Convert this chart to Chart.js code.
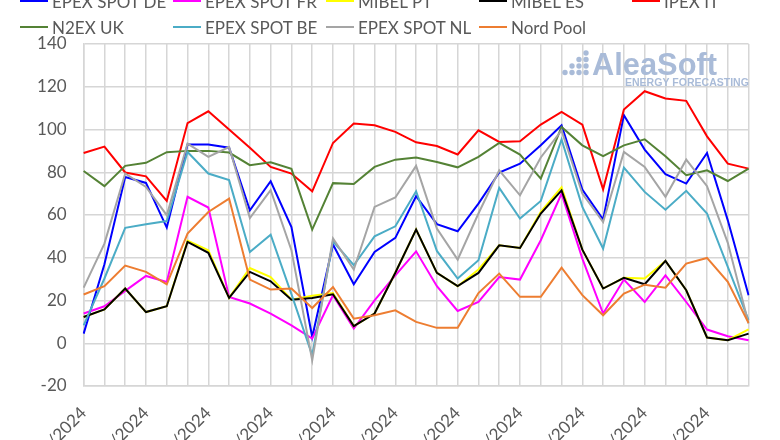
<!DOCTYPE html>
<html lang="es">
<head>
    <meta charset="UTF-8">
    <title>Precios mercados eléctricos europeos</title>
    <script src="https://cdn.jsdelivr.net/npm/chart.js"></script>
    <style>
        body {
            margin: 0;
            width: 780px;
            height: 440px;
            overflow: hidden;
            background: #ffffff;
            font-family: Lato, "Noto Sans", sans-serif;
            position: relative;
        }
        #chart { position: absolute; left: 0; top: 0; }
        .leg {
            position: absolute;
            display: flex;
            align-items: center;
            height: 20px;
            font-size: 17px;
            color: #595959;
            white-space: nowrap;
        }
        .leg span.ln {
            display: inline-block;
            width: 28px;
            height: 2px;
            margin-right: 4px;
        }
    </style>
</head>
<body>
    <canvas id="chart" width="780" height="470"></canvas>
    <div id="legend"></div>

    <script>
        // días: 01/05/2024 .. 02/06/2024
        const labels = [
            '01/05/2024', '02/05/2024', '03/05/2024', '04/05/2024', '05/05/2024', '06/05/2024', '07/05/2024',
            '08/05/2024', '09/05/2024', '10/05/2024', '11/05/2024', '12/05/2024', '13/05/2024', '14/05/2024',
            '15/05/2024', '16/05/2024', '17/05/2024', '18/05/2024', '19/05/2024', '20/05/2024', '21/05/2024',
            '22/05/2024', '23/05/2024', '24/05/2024', '25/05/2024', '26/05/2024', '27/05/2024', '28/05/2024',
            '29/05/2024', '30/05/2024', '31/05/2024', '01/06/2024', '02/06/2024'
        ];

        const seriesNames = ['EPEX SPOT DE', 'EPEX SPOT FR', 'MIBEL PT', 'MIBEL ES', 'IPEX IT',
                             'N2EX UK', 'EPEX SPOT BE', 'EPEX SPOT NL', 'Nord Pool'];
        const seriesColors = ['#0000ff', '#ff00ff', '#ffff00', '#000000', '#ff0000',
                              '#548235', '#4bacc6', '#a5a5a5', '#ed7d31'];

        const epexDE = [4.5, 37, 77.8, 75, 54.1, 93, 93, 91.5, 62.2, 75.8, 54.4, 2.9, 46.2, 27.6, 42.7, 49.3, 68.8,
                        55.7, 52.4, 65.3, 79.9, 84, 92.6, 102, 71.9, 57.9, 106.7, 90.6, 79.1, 74.7, 89, 57.5, 22.5];
        const epexFR = [13.9, 17.3, 24.5, 31.5, 28.7, 68.5, 63.5, 21.7, 18.6, 13.9, 8.4, 2.2, 22.5, 6.9, 20.1, 31.8, 43,
                        26.7, 15.1, 19.3, 31, 29.8, 48.2, 70, 39.6, 13.9, 29.8, 19.3, 31.8, 19.3, 6.4, 3.3, 1.4];
        const mibelPT = [12.3, 15.8, 25.6, 14.6, 17.3, 48, 43.5, 21.2, 35.2, 31, 20.4, 22.2, 23.5, 8, 13.9, 33, 53.2,
                         32.9, 26.7, 34.5, 45.8, 44.6, 61.5, 73, 43.8, 25.6, 30.6, 30.3, 38.5, 24.8, 2.7, 1.4, 6.5];
        const mibelES = [12.3, 15.8, 25.6, 14.6, 17.3, 47.4, 42.3, 21.2, 33.4, 29, 20.4, 21.2, 22.9, 8, 13.9, 33, 53.2,
                         32.9, 26.7, 32.9, 45.8, 44.6, 60.7, 71.5, 43.8, 25.6, 30.6, 27.6, 38.5, 24.8, 2.7, 1.4, 4.5];
        const ipexIT = [89, 92, 79.9, 78.1, 66.6, 103, 108.5, 100, 91.5, 82.5, 79.4, 71.1, 93.7, 102.8, 102, 98.9, 94,
                        92.3, 88.3, 99.6, 94.2, 94.5, 102.3, 108.2, 102.3, 72, 109.3, 117.9, 114.5, 113.4, 96.8, 84, 81.7];
        const n2exUK = [80.6, 73.5, 83, 84.4, 89.4, 90, 90, 89.2, 83.3, 84.7, 81.6, 53.2, 74.9, 74.5, 82.5, 85.9, 86.9,
                        84.8, 82.3, 87.2, 93.7, 88.3, 77, 101.2, 92.6, 87.5, 92.6, 95.4, 87.5, 78.6, 80.9, 75.9, 81.7];
        const epexBE = [8.4, 30.3, 54, 55.7, 57.2, 89.5, 79.4, 76.3, 42.7, 50.8, 23, -5.6, 47.7, 36.5, 50, 54.7, 71.1,
                        43.2, 30.3, 38.8, 72.7, 58.3, 66.6, 95.3, 63.8, 44.3, 82.2, 70.8, 62.5, 71.3, 60.7, 35.7, 10.8];
        const epexNL = [26, 46.6, 79.4, 73.1, 59.9, 93.4, 87.2, 91.8, 58.6, 71.6, 43.5, -8, 49, 34.5, 63.8, 68.2, 83,
                        53.6, 39.1, 60.7, 80.9, 69.2, 86.9, 99.6, 70, 56.7, 89.5, 82.5, 68.5, 85.9, 73.5, 47, 9.2];
        const nordPool = [22.8, 26.7, 36.3, 33.4, 27.6, 51.3, 61.4, 67.7, 29.8, 25.1, 25.6, 16.5, 26.3, 11.5, 13.1, 15.4, 10,
                          7.2, 7.2, 23.5, 32.6, 21.7, 21.7, 35.4, 22.5, 13.1, 23.2, 27.4, 26, 37.3, 39.9, 28.7, 9.5];

        const yTicks = { min: -20, max: 140, step: 20 };

        const allSeries = [epexDE, epexFR, mibelPT, mibelES, ipexIT, n2exUK, epexBE, epexNL, nordPool];

        const datasets = allSeries.map((values, i) => ({
            label: seriesNames[i],
            data: values,
            borderColor: seriesColors[i],
            backgroundColor: seriesColors[i],
            borderWidth: 2,
            pointRadius: 0,
            tension: 0,
            fill: false,
            order: allSeries.length - i   // later series drawn on top, like Excel
        }));

        // texto ajustado a un ancho dado
        function fitText(ctx, text, x, y, width, weight) {
            ctx.font = weight + ' 20px "Liberation Sans", Arial, sans-serif';
            const w = ctx.measureText(text).width;
            const size = 20 * width / w;
            ctx.font = weight + ' ' + size.toFixed(2) + 'px "Liberation Sans", Arial, sans-serif';
            ctx.fillText(text, x, y);
        }

        // logo de fondo
        const watermark = {
            id: 'watermark',
            beforeDatasetsDraw(chart) {
                const ctx = chart.ctx;
                ctx.save();
                ctx.fillStyle = '#a9bbd8';
                // puntos en triángulo
                const cols = [565, 572, 579, 586];
                const rows = [53, 59.5, 66, 72.5];
                cols.forEach((cx, c) => {
                    for (let r = 3 - c; r < 4; r++) {
                        ctx.beginPath();
                        ctx.arc(cx, rows[r], 2.7, 0, Math.PI * 2);
                        ctx.fill();
                    }
                });
                ctx.textBaseline = 'alphabetic';
                ctx.textAlign = 'left';
                fitText(ctx, 'AleaSoft', 592, 75, 125, 'bold');
                fitText(ctx, 'ENERGY FORECASTING', 625, 85.5, 124, 'bold');
                ctx.restore();
            }
        };

        const ctx = document.getElementById('chart').getContext('2d');
        const chart = new Chart(ctx, {
            type: 'line',
            data: { labels: labels, datasets: datasets },
            plugins: [watermark],
            options: {
                responsive: false,
                animation: false,
                layout: { padding: { top: 44, right: 17, left: 0, bottom: 0 } },
                plugins: {
                    legend: { display: false },
                    tooltip: { enabled: false }
                },
                scales: {
                    x: {
                        offset: false,
                        grid: { color: '#d6d6d6', lineWidth: 1.5, drawTicks: false },
                        border: { color: '#d6d6d6', width: 1.5 },
                        ticks: {
                            autoSkip: false,
                            maxRotation: 45,
                            minRotation: 45,
                            padding: 17,
                            color: '#595959',
                            font: { family: 'Lato, "Noto Sans", sans-serif', size: 17 },
                            callback: function (value, index) {
                                return index % 3 === 0 ? labels[index] : '';
                            }
                        },
                        afterFit: function (scale) { scale.height = 84; }
                    },
                    y: {
                        min: yTicks.min,
                        max: yTicks.max,
                        grid: { color: '#d6d6d6', lineWidth: 1.5, drawTicks: false },
                        border: { color: '#d6d6d6', width: 1.5 },
                        ticks: {
                            stepSize: yTicks.step,
                            padding: 17,
                            color: '#595959',
                            font: { family: 'Lato, "Noto Sans", sans-serif', size: 17 }
                        },
                        afterFit: function (scale) { scale.width = 76; }
                    }
                }
            }
        });

        // leyenda en dos filas con columnas fijas
        const legendBox = document.getElementById('legend');
        datasets.forEach((ds, i) => {
            const row = i < 5 ? 0 : 1;
            const col = i < 5 ? i : i - 5;
            const item = document.createElement('div');
            item.className = 'leg';
            item.style.left = (20 + col * 153) + 'px';
            item.style.top = (row === 0 ? -9 : 17) + 'px';
            const ln = document.createElement('span');
            ln.className = 'ln';
            ln.style.background = ds.borderColor;
            item.appendChild(ln);
            item.appendChild(document.createTextNode(ds.label));
            legendBox.appendChild(item);
        });
    </script>
</body>
</html>
